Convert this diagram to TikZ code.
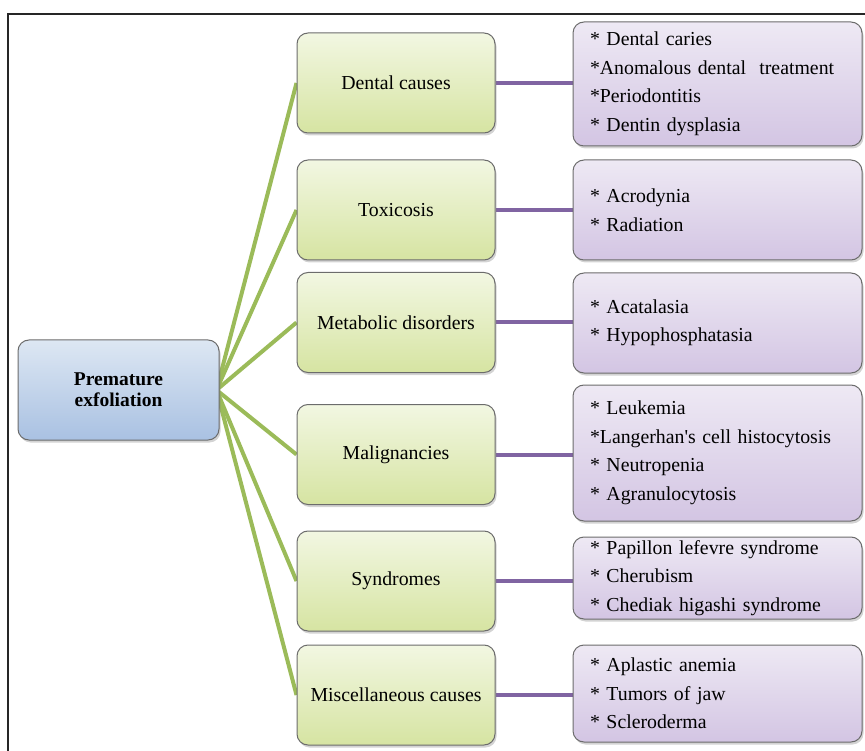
\documentclass[tikz,border=0pt]{standalone}
\usepackage{fontspec}
\setmainfont{Liberation Serif}
\usepackage{xcolor}
\usetikzlibrary{positioning,backgrounds,shadows}
\definecolor{rootTop}{HTML}{DDE7F3}
\definecolor{rootBot}{HTML}{A9C1E2}
\definecolor{causeTop}{HTML}{F2F7E2}
\definecolor{causeBot}{HTML}{D6E4A2}
\definecolor{itemTop}{HTML}{EEE9F4}
\definecolor{itemBot}{HTML}{D3C5E3}
\definecolor{linkGreen}{HTML}{9BBB59}
\definecolor{linkPurple}{HTML}{8064A2}
\begin{document}
\begin{tikzpicture}[x=1pt,y=-1pt,
 box/.style={draw=gray!85!black,line width=1pt,rounded corners=11pt,
   drop shadow={shadow xshift=1.5pt,shadow yshift=-2.5pt,opacity=.35},
   font=\fontsize{19.8}{28.5}\selectfont},
 rootbox/.style={box,top color=rootTop,bottom color=rootBot,minimum width=201pt,minimum height=100pt,
   align=center,font=\fontsize{19.5}{21}\selectfont\bfseries},
 cause/.style={box,top color=causeTop,bottom color=causeBot,minimum width=198pt,minimum height=100pt,align=center},
 items/.style={box,top color=itemTop,bottom color=itemBot,text width=255pt,inner xsep=17pt,align=left},
 spoke/.style={draw=linkGreen,line width=4pt},
 link/.style={draw=linkPurple,line width=4pt}]
\useasboundingbox (0,0) rectangle (865,751);
\draw[gray!30!black,line width=1.5pt] (8,751) -- (8,14) -- (865,14);
\node[rootbox] (root) at (118.5,390) {Premature\\exfoliation};
\node[cause] (cDental) at (396,83) {Dental causes};
\node[cause] (cToxic) at (396,210) {Toxicosis};
\node[cause] (cMetab) at (396,322.5) {Metabolic disorders};
\node[cause] (cMalig) at (396,454.5) {Malignancies};
\node[cause] (cSynd) at (396,581) {Syndromes};
\node[cause] (cMisc) at (396,695) {Miscellaneous causes};
\node[items,minimum height=124pt] (iDental) at (717.5,84) {* Dental caries\\{}*Anomalous dental\ \ treatment\\{}*Periodontitis\\{}* Dentin dysplasia};
\node[items,minimum height=100pt] (iToxic) at (717.5,210) {* Acrodynia\\{}* Radiation};
\node[items,minimum height=100pt] (iMetab) at (717.5,323) {* Acatalasia\\{}* Hypophosphatasia};
\node[items,minimum height=136pt] (iMalig) at (717.5,453) {* Leukemia\\{}*Langerhan\textquotesingle s cell histocytosis\\{}* Neutropenia\\{}* Agranulocytosis};
\node[items,minimum height=82pt] (iSynd) at (717.5,578) {* Papillon\ lefevre syndrome\\{}* Cherubism\\{}* Chediak higashi syndrome};
\node[items,minimum height=97pt] (iMisc) at (717.5,693.5) {* Aplastic anemia\\{}* Tumors of jaw\\{}* Scleroderma};
\begin{scope}[on background layer]
\draw[spoke] ([xshift=-3pt]root.east) -- (cDental.west);
\draw[spoke] ([xshift=-3pt]root.east) -- (cToxic.west);
\draw[spoke] ([xshift=-3pt]root.east) -- (cMetab.west);
\draw[spoke] ([xshift=-3pt]root.east) -- (cMalig.west);
\draw[spoke] ([xshift=-3pt]root.east) -- (cSynd.west);
\draw[spoke] ([xshift=-3pt]root.east) -- (cMisc.west);
\draw[link] (cDental.east) -- (cDental.east -| iDental.west);
\draw[link] (cToxic.east) -- (cToxic.east -| iToxic.west);
\draw[link] (cMetab.east) -- (cMetab.east -| iMetab.west);
\draw[link] (cMalig.east) -- (cMalig.east -| iMalig.west);
\draw[link] (cSynd.east) -- (cSynd.east -| iSynd.west);
\draw[link] (cMisc.east) -- (cMisc.east -| iMisc.west);
\end{scope}
\end{tikzpicture}
\end{document}
